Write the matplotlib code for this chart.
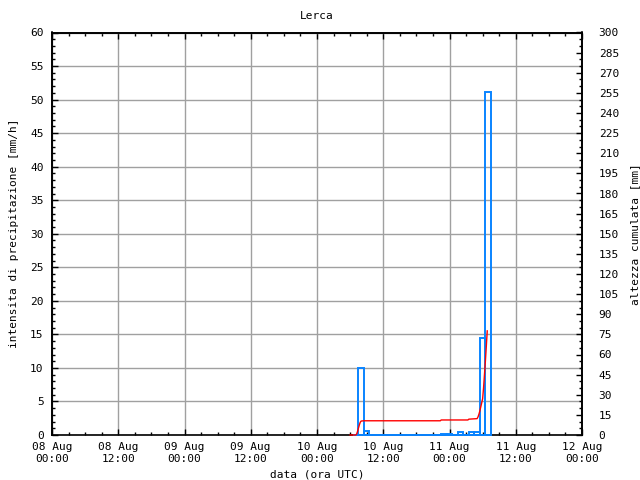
import pandas as pd
import matplotlib
matplotlib.use('Agg')
import matplotlib.pyplot as plt
import matplotlib.dates as mdates
from matplotlib.ticker import MultipleLocator

plt.rcParams['font.family'] = ['DejaVu Sans Mono']
plt.rcParams['font.size'] = 8

# intensita oraria [mm/h], una barra per ora (10 Aug 07:00 -> 11 Aug 07:00)
bar_start = '2015-08-10 07:00'
bar_values = [0.0, 10.0, 0.6,
              0, 0, 0, 0, 0, 0, 0, 0, 0, 0, 0, 0, 0,
              0.2, 0.2, 0.0, 0.4, 0.0, 0.4, 0.4, 14.4, 51.2]

# altezza cumulata [mm]
cum_times = ['2015-08-10 06:00', '2015-08-10 07:00', '2015-08-10 07:10',
             '2015-08-10 07:20', '2015-08-10 07:30', '2015-08-10 07:40',
             '2015-08-10 07:50', '2015-08-10 08:00', '2015-08-10 08:30',
             '2015-08-10 22:20', '2015-08-10 22:30', '2015-08-11 03:20',
             '2015-08-11 03:30', '2015-08-11 05:00', '2015-08-11 05:10',
             '2015-08-11 05:20', '2015-08-11 05:30', '2015-08-11 05:40',
             '2015-08-11 05:50', '2015-08-11 06:00', '2015-08-11 06:10',
             '2015-08-11 06:20', '2015-08-11 06:30', '2015-08-11 06:40',
             '2015-08-11 06:50']
cum_values = [0.0, 0.0, 0.6,
              2.5, 5.0, 7.5,
              9.5, 10.4, 10.6,
              10.6, 11.2, 11.2,
              11.8, 12.2, 13.5,
              15.5, 18.0, 21.0,
              24.0, 27.0, 35.0,
              45.0, 55.0, 66.0,
              77.6]

bar_times = pd.date_range(bar_start, periods=len(bar_values), freq='h')
cum_t = pd.to_datetime(cum_times)

fig = plt.figure(figsize=(6.4, 4.8), dpi=100)
ax = fig.add_axes([52 / 640, 45 / 480, 530 / 640, 402.5 / 480])
ax2 = ax.twinx()

ax.bar(bar_times, bar_values, width=1 / 24, fill=False,
       edgecolor='#0a84ff', linewidth=1.4, zorder=3, clip_on=False)
ax2.plot(cum_t, cum_values, color='red', linewidth=1.0, zorder=4, clip_on=False)

ax.set_xlim(pd.Timestamp('2015-08-08 00:00'), pd.Timestamp('2015-08-12 00:00'))
ax.set_ylim(0, 60)
ax2.set_ylim(0, 300)

ax.xaxis.set_major_locator(mdates.HourLocator(byhour=[0, 12]))
ax.xaxis.set_minor_locator(mdates.HourLocator(byhour=range(0, 24, 3)))
ax.xaxis.set_major_formatter(mdates.DateFormatter('%d %b\n%H:%M'))
ax.yaxis.set_major_locator(MultipleLocator(5))
ax.yaxis.set_minor_locator(MultipleLocator(1))
ax2.yaxis.set_major_locator(MultipleLocator(15))
ax2.yaxis.set_minor_locator(MultipleLocator(5))

ax.grid(True, which='major', color='#a0a0a0', linewidth=1.0)
ax.set_axisbelow(True)

ax.tick_params(axis='x', which='both', direction='in', top=True, labelsize=8, pad=5)
ax.tick_params(axis='y', which='both', direction='in', right=False, labelsize=8, pad=6)
ax.tick_params(which='major', length=4.5, width=1)
ax.tick_params(which='minor', length=2.2, width=1)
ax2.tick_params(axis='y', which='both', direction='in', labelsize=8, pad=12)
ax2.tick_params(which='major', length=4.5, width=1)
ax2.tick_params(which='minor', length=2.2, width=1)
for lab in ax2.get_yticklabels():
    lab.set_ha('left')

ax2.spines['bottom'].set_visible(False)
for a in (ax, ax2):
    for s in a.spines.values():
        s.set_linewidth(1.2)

ax.set_title('Lerca', fontsize=8, pad=10)
ax.set_xlabel('data (ora UTC)', fontsize=8, labelpad=4)
ax.set_ylabel('intensita di precipitazione [mm/h]', fontsize=8, labelpad=8)
ax2.set_ylabel('altezza cumulata [mm]', fontsize=8, labelpad=8)

fig.savefig('out.png', dpi=100)
